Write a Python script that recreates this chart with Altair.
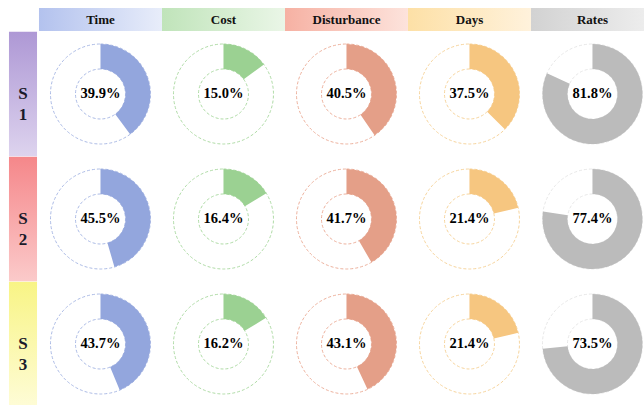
import math
import altair as alt
import pandas as pd

# ---- data -------------------------------------------------------------
metrics = ["Time", "Cost", "Disturbance", "Days", "Rates"]
scenarios = ["S\n1", "S\n2", "S\n3"]

time_pct = [39.9, 45.5, 43.7]
cost_pct = [15.0, 16.4, 16.2]
disturbance_pct = [40.5, 41.7, 43.1]
days_pct = [37.5, 21.4, 21.4]
rates_pct = [81.8, 77.4, 73.5]

slice_colors = ["#93a6dd", "#9bd192", "#e49f88", "#f6c680", "#bbbbbb"]
ring_colors = ["#a3b3e2", "#a6d79c", "#eaa892", "#f5cf92", "#e4e4e4"]

# column header gradients (left -> right)
header_stops = [
    ["#b3c2ee", "#e8edfa"],
    ["#c0e4ba", "#eaf6e7"],
    ["#f6b1a3", "#fde3dc"],
    ["#fde0a6", "#fff2dc"],
    ["#d2d2d2", "#efefef"],
]
# row label gradients (top -> bottom)
row_stops = [
    ["#ae98d5", "#ddd3ee"],
    ["#f5878a", "#fbcaca"],
    ["#f8f485", "#fefcd6"],
]

values = [time_pct, cost_pct, disturbance_pct, days_pct, rates_pct]

# ---- table of donuts --------------------------------------------------
records = []
for ci, m in enumerate(metrics):
    for ri in range(len(scenarios)):
        v = values[ci][ri]
        records.append({
            "metric": m, "col": ci, "row": ri,
            "start": 0.0, "end": v, "full": 100.0,
            "label": f"{v:.1f}%",
        })
donuts = pd.DataFrame(records)

W, H = 644, 405
x_scale = alt.Scale(domain=[-0.817, 4.419], nice=False, zero=False)
y_scale = alt.Scale(domain=[-0.752, 2.488], nice=False, zero=False, reverse=True)
theta_scale = alt.Scale(domain=[0, 100], range=[0, 2 * math.pi])
fill_scale = alt.Scale(domain=metrics, range=slice_colors)
ring_scale = alt.Scale(domain=metrics, range=ring_colors)

X = lambda f: alt.X(f, scale=x_scale, axis=None)
Y = lambda f: alt.Y(f, scale=y_scale, axis=None)

base = alt.Chart(donuts)

ring = base.mark_arc(radius=50, radius2=25, fill="white", strokeWidth=0.9,
                     strokeDash=[3, 2]).encode(
    x=X("col:Q"), y=Y("row:Q"),
    theta=alt.Theta("start:Q", scale=theta_scale), theta2="full:Q",
    stroke=alt.Stroke("metric:N", scale=ring_scale, legend=None),
)

share = base.mark_arc(radius=50, radius2=25, stroke=None).encode(
    x=X("col:Q"), y=Y("row:Q"),
    theta=alt.Theta("start:Q", scale=theta_scale), theta2="end:Q",
    fill=alt.Fill("metric:N", scale=fill_scale, legend=None),
)

labels = base.mark_text(font="Liberation Serif", fontWeight="bold",
                        fontSize=14.5, color="black").encode(
    x=X("col:Q"), y=Y("row:Q"), text="label:N",
)

layers = [ring, share, labels]


def lin_grad(stops, horizontal=True):
    return alt.Gradient(
        gradient="linear",
        stops=[alt.GradientStop(color=stops[0], offset=0),
               alt.GradientStop(color=stops[1], offset=1)],
        x1=0, y1=0, x2=1 if horizontal else 0, y2=0 if horizontal else 1,
    )


# column headers
for ci, m in enumerate(metrics):
    hdf = pd.DataFrame([{"x0": ci - 0.5, "x1": ci + 0.5, "xc": ci,
                         "y0": -0.688, "y1": -0.504, "yc": -0.596, "name": m}])
    hb = alt.Chart(hdf).mark_rect(fill=lin_grad(header_stops[ci])).encode(
        x=X("x0:Q"), x2="x1:Q", y=Y("y0:Q"), y2="y1:Q")
    ht = alt.Chart(hdf).mark_text(font="Liberation Serif", fontWeight="bold",
                                  fontSize=13, color="#111111").encode(
        x=X("xc:Q"), y=Y("yc:Q"), text="name:N")
    layers = [hb, ht] + layers

# row labels
for ri, s in enumerate(scenarios):
    rdf = pd.DataFrame([{"x0": -0.744, "x1": -0.516, "xc": -0.63,
                         "y0": ri - 0.498, "y1": ri + 0.498, "yc": ri, "name": s}])
    rb = alt.Chart(rdf).mark_rect(fill=lin_grad(row_stops[ri], horizontal=False)).encode(
        x=X("x0:Q"), x2="x1:Q", y=Y("y0:Q"), y2="y1:Q")
    rt = alt.Chart(rdf).mark_text(font="Liberation Serif", fontWeight="bold",
                                  fontSize=17, color="#1a1a2a", lineBreak="\n",
                                  lineHeight=21, baseline="middle").encode(
        x=X("xc:Q"), y=Y("yc:Q"), text="name:N")
    layers = [rb, rt] + layers

chart = alt.layer(*layers).properties(
    width=W, height=H, background="white",
    autosize=alt.AutoSizeParams(type="none"), padding=0,
).configure_view(stroke=None)

chart.save("out.html", embed_options={"renderer": "svg", "actions": False})
